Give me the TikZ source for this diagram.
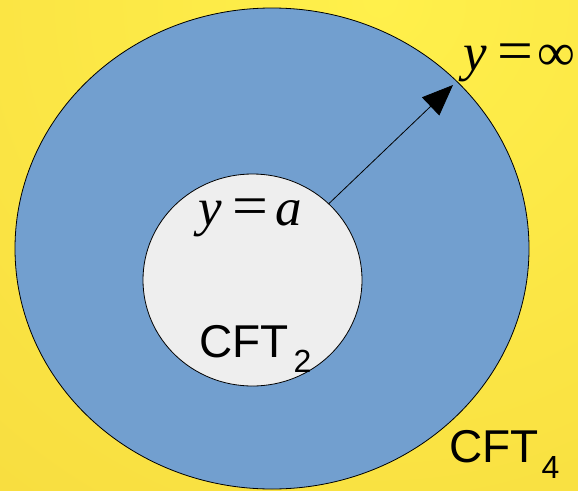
\documentclass[tikz,border=0pt]{standalone}
\usepackage{fontspec}
\setmainfont{Liberation Serif}
\newfontfamily\cftsans{Liberation Sans}
\usepackage{graphicx}
\usepackage{xcolor}
\usepackage{tikz}
\usetikzlibrary{shapes.geometric, arrows.meta, positioning, calc}

\definecolor{bgbright}{HTML}{FFF04B}
\definecolor{bgdark}{HTML}{F4D43A}
\definecolor{bulkblue}{HTML}{729FCF}
\definecolor{diskgray}{HTML}{EEEEEE}

\begin{document}
\begin{tikzpicture}[
    x=1pt, y=-1pt,
    region/.style={
        draw=black,
        ellipse,
        inner sep=0pt,
        line width=0.8pt
    },
    mathlbl/.style={
        inner sep=0pt,
        anchor=base west,
        font=\fontsize{53}{53}\selectfont
    },
    cftlbl/.style={
        inner sep=0pt,
        anchor=base west,
        font=\cftsans\fontsize{46}{46}\selectfont
    },
    rayarrow/.style={-{Triangle[length=31pt, width=25pt]}, line width=0.8pt}
]

\useasboundingbox (0,0) rectangle (578,490);
\begin{scope}
    \clip (0,0) rectangle (578,490);
    \shade[inner color=bgbright, outer color=bgdark] (380,0) circle (960);
\end{scope}

\node[region, fill=bulkblue, minimum width=514pt, minimum height=481pt] (bulk) at (272,248.5) {};
\node[region, fill=diskgray, minimum width=219pt, minimum height=212pt] (disk) at (252.5,280) {};

\coordinate (rim) at (453,85);
\draw[rayarrow] (disk.45) -- (rim);

\node[mathlbl] (yinf) at (463,70) {\textit{y}\kern11pt\scalebox{1.2}[1.1]{=}\kern4pt ∞};
\node[mathlbl] (ya) at (198,225) {\textit{y}\kern11pt\scalebox{1.2}[1.1]{=}\kern7pt\textit{a}};

\node[cftlbl] (cfttwo) at (199,357) {CFT\kern5pt\raisebox{-15pt}{\fontsize{32}{32}\selectfont 2}};
\node[cftlbl] (cftfour) at (449,462) {CFT\kern3pt\raisebox{-16pt}{\fontsize{32}{32}\selectfont 4}};

\end{tikzpicture}
\end{document}
